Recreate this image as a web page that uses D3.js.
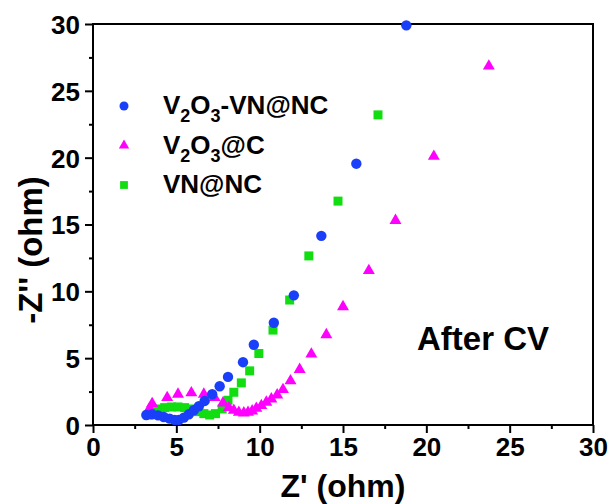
<!DOCTYPE html>
<html>
<head>
<meta charset="utf-8">
<script src="https://cdn.jsdelivr.net/npm/d3@7"></script>
<style>
  body { margin: 0; background: #fff; }
  text { font-family: "Liberation Sans", Arial, sans-serif; font-weight: bold; }
</style>
</head>
<body>
<script>
// DATA
var vnncX = [3.2, 3.55, 3.9, 4.25, 4.6, 4.9, 5.15, 5.45, 5.75, 6.05, 6.35, 6.7, 7.15, 7.6, 8.1, 9.0, 9.65, 10.85, 12.05, 13.7, 15.8, 18.8];
var vnncY = [0.75, 0.8, 0.72, 0.6, 0.48, 0.38, 0.38, 0.55, 0.8, 1.1, 1.4, 1.8, 2.3, 2.9, 3.6, 4.7, 6.0, 7.65, 9.7, 14.15, 19.55, 29.9];

var v2o3cX = [3.4, 3.55, 4.45, 5.1, 5.9, 6.65, 7.3, 7.8, 8.15, 8.45, 8.75, 9.05, 9.3, 9.55, 9.8, 10.1, 10.4, 10.7, 11.05, 11.4, 11.85, 12.4, 13.1, 14.0, 15.0, 16.55, 18.15, 20.45, 23.75];
var v2o3cY = [1.25, 1.6, 2.05, 2.3, 2.4, 2.3, 2.05, 1.65, 1.3, 1.1, 0.95, 0.9, 0.95, 1.05, 1.25, 1.45, 1.7, 1.95, 2.25, 2.65, 3.3, 4.15, 5.3, 6.75, 8.85, 11.55, 15.3, 20.1, 26.85];

var vnX = [3.3, 3.6, 3.95, 4.3, 4.7, 5.1, 5.5, 5.9, 6.3, 6.65, 7.0, 7.35, 7.75, 8.1, 8.45, 8.9, 9.4, 9.95, 10.8, 11.8, 12.95, 14.7, 17.1];
var vnY = [0.75, 1.0, 1.2, 1.3, 1.35, 1.35, 1.3, 1.2, 1.0, 0.85, 0.75, 0.85, 1.2, 1.85, 2.45, 3.15, 4.05, 5.35, 7.1, 9.35, 12.65, 16.75, 23.2];

var majorTicks = [0, 5, 10, 15, 20, 25, 30];
var minorTicks = [2.5, 7.5, 12.5, 17.5, 22.5, 27.5];

var margin = { top: 24, right: 23, bottom: 79, left: 93 },
    width = 616 - margin.left - margin.right,
    height = 504 - margin.top - margin.bottom;

var svg = d3.select("body").append("svg")
    .attr("width", 616)
    .attr("height", 504)
    .append("g")
    .attr("transform", "translate(" + margin.left + "," + margin.top + ")");

var x = d3.scaleLinear().domain([0, 30]).range([0, width]);
var y = d3.scaleLinear().domain([0, 30]).range([height, 0]);

// axes
svg.append("g")
    .attr("transform", "translate(0," + height + ")")
    .call(d3.axisBottom(x).tickValues(majorTicks).tickSize(8).tickPadding(5).tickFormat(d3.format("d")));
svg.append("g")
    .attr("transform", "translate(0," + height + ")")
    .call(d3.axisBottom(x).tickValues(minorTicks).tickSize(4).tickFormat(""));

var yAxis = svg.append("g")
    .call(d3.axisLeft(y).tickValues(majorTicks).tickSize(8).tickPadding(5).tickFormat(d3.format("d")));
svg.append("g")
    .call(d3.axisLeft(y).tickValues(minorTicks).tickSize(4).tickFormat(""));

svg.selectAll(".domain").remove();
svg.selectAll(".tick line").attr("stroke", "#000").attr("stroke-width", 2);
svg.selectAll(".tick text").style("font-size", "26px").attr("fill", "#000");
yAxis.selectAll(".tick text").attr("dy", "0.36em");

// frame
svg.append("rect")
    .attr("width", width)
    .attr("height", height)
    .attr("fill", "none")
    .attr("stroke", "#000")
    .attr("stroke-width", 2);

// axis titles
svg.append("text")
    .attr("x", width / 2)
    .attr("y", height + 72)
    .attr("text-anchor", "middle")
    .style("font-size", "32px")
    .text("Z' (ohm)");

svg.append("text")
    .attr("transform", "rotate(-90)")
    .attr("x", -226)
    .attr("y", -51)
    .attr("text-anchor", "middle")
    .style("font-size", "33px")
    .text("-Z'' (ohm)");

// series
var series = [
    { name: "VN@NC", xs: vnX, ys: vnY, color: "#11dd11", type: d3.symbolSquare, size: 81 },
    { name: "V2O3@C", xs: v2o3cX, ys: v2o3cY, color: "#ff00ff", type: d3.symbolTriangle, size: 62 },
    { name: "V2O3-VN@NC", xs: vnncX, ys: vnncY, color: "#1a3ff8", type: d3.symbolCircle, size: 85 }
];

series.forEach(function (s) {
    var pts = s.xs.map(function (v, i) { return [v, s.ys[i]]; });
    svg.append("g").selectAll("path")
        .data(pts)
        .enter()
        .append("path")
        .attr("d", d3.symbol().type(s.type).size(s.size))
        .attr("transform", d => "translate(" + x(d[0]) + "," + y(d[1]) + ")")
        .attr("fill", s.color);
});

// legend (label parts: [text, isSubscript])
var legend = [
    { parts: [["V", 0], ["2", 1], ["O", 0], ["3", 1], ["-VN@NC", 0]], s: series[2] },
    { parts: [["V", 0], ["2", 1], ["O", 0], ["3", 1], ["@C", 0]], s: series[1] },
    { parts: [["VN@NC", 0]], s: series[0] }
];

legend.forEach(function (l, i) {
    var yy = 82 + i * 39.5;
    svg.append("path")
        .attr("d", d3.symbol().type(l.s.type).size(l.s.size * 0.75))
        .attr("transform", "translate(31," + yy + ")")
        .attr("fill", l.s.color);
    var t = svg.append("text")
        .attr("x", 70)
        .attr("y", yy + 8)
        .style("font-size", "26px");
    var shift = 0;
    l.parts.forEach(function (p) {
        var target = p[1] ? 8 : 0;
        t.append("tspan")
            .style("font-size", p[1] ? "18px" : "26px")
            .attr("dy", target - shift)
            .text(p[0]);
        shift = target;
    });
});

svg.append("text")
    .attr("x", 324)
    .attr("y", 326)
    .style("font-size", "33px")
    .text("After CV");
</script>
</body>
</html>
